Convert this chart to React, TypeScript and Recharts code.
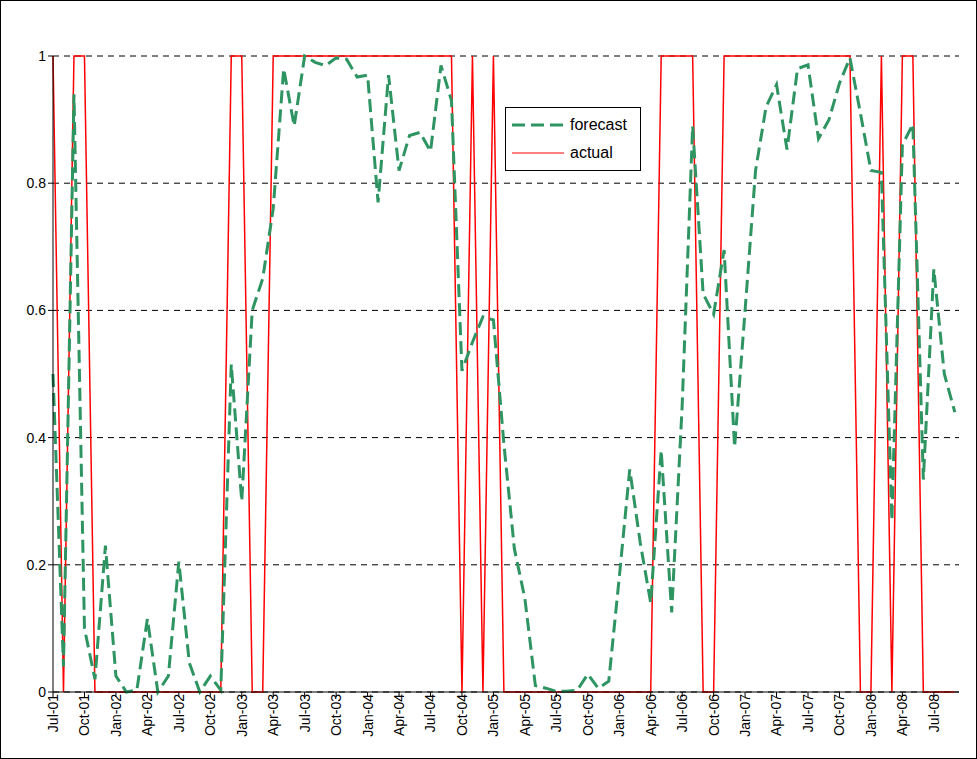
import React from 'react';
import { LineChart, Line, XAxis, YAxis, CartesianGrid } from 'recharts';

// monthly, Jul-01 .. Sep-08
const forecast = [
  0.5, 0.04, 0.94, 0.1, 0.02, 0.23, 0.025, 0, 0.003, 0.115,
  0, 0.025, 0.205, 0.046, 0, 0.025, 0.003, 0.515, 0.3, 0.6,
  0.65, 0.76, 0.98, 0.89, 1.0, 0.99, 0.985, 0.997, 0.995, 0.967,
  0.97, 0.77, 0.97, 0.82, 0.875, 0.88, 0.85, 0.985, 0.93, 0.505,
  0.55, 0.59, 0.585, 0.39, 0.225, 0.147, 0.01, 0.006, 0.001, 0.001,
  0.003, 0.028, 0.006, 0.017, 0.18, 0.35, 0.235, 0.14, 0.38, 0.125,
  0.45, 0.89, 0.626, 0.594, 0.695, 0.385, 0.6, 0.82, 0.92, 0.955,
  0.853, 0.98, 0.986, 0.87, 0.9, 0.957, 0.997, 0.91, 0.82, 0.817,
  0.27, 0.86, 0.893, 0.334, 0.665, 0.5, 0.44,
];

const actual = [
  1, 0, 1, 1, 0, 0, 0, 0, 0, 0,
  0, 0, 0, 0, 0, 0, 0, 1, 1, 0,
  0, 1, 1, 1, 1, 1, 1, 1, 1, 1,
  1, 1, 1, 1, 1, 1, 1, 1, 1, 0,
  1, 0, 1, 0, 0, 0, 0, 0, 0, 0,
  0, 0, 0, 0, 0, 0, 0, 0, 1, 1,
  1, 1, 0, 0, 1, 1, 1, 1, 1, 1,
  1, 1, 1, 1, 1, 1, 1, 0, 0, 1,
  0, 1, 1, 0, 0, 0, 0,
];

const months = ['Jan', 'Feb', 'Mar', 'Apr', 'May', 'Jun', 'Jul', 'Aug', 'Sep', 'Oct', 'Nov', 'Dec'];
const labels = forecast.map((_, i) => {
  const m = (6 + i) % 12;
  const y = 1 + Math.floor((6 + i) / 12);
  return `${months[m]}-${String(y).padStart(2, '0')}`;
});

const data = forecast.map((f, i) => ({ i, forecast: f, actual: actual[i] }));
const xTicks = labels.map((_, i) => i).filter(i => i % 3 === 0);

const font = 'Arial, "Liberation Sans", sans-serif';

const App: React.FC = () => (
  <div style={{ position: 'absolute', left: 0, top: 0, width: 975, height: 757, border: '1px solid #000', background: '#fff' }}>
    <LineChart width={975} height={757} data={data} margin={{ top: 55, right: 17, bottom: 0, left: 11 }}>
      <CartesianGrid vertical={false} stroke="#000" strokeDasharray="6 5" />
      <XAxis
        dataKey="i"
        type="number"
        domain={[0, 86.4]}
        ticks={xTicks}
        tickFormatter={(v: number) => labels[Math.round(v)] ?? ''}
        interval={0}
        height={66}
        stroke="#000"
        tickSize={5}
        angle={-90}
        textAnchor="end"
        dy={-5}
        dx={-5}
        tick={{ fill: '#000', fontSize: 14, fontFamily: font }}
      />
      <YAxis
        domain={[0, 1]}
        ticks={[0, 0.2, 0.4, 0.6, 0.8, 1]}
        width={41}
        stroke="#000"
        tickSize={5}
        tick={{ fill: '#000', fontSize: 14, fontFamily: font }}
      />
      <Line dataKey="actual" stroke="#ff0000" strokeWidth={1.5} dot={false} isAnimationActive={false} />
      <Line dataKey="forecast" stroke="#2e9562" strokeWidth={3} strokeDasharray="13 6" dot={false} isAnimationActive={false} />
    </LineChart>
    <div style={{ position: 'absolute', left: 504, top: 106, width: 134, height: 62, border: '1px solid #000', background: '#fff', fontFamily: font, fontSize: 16 }}>
      <div style={{ display: 'flex', alignItems: 'center', height: 30, marginTop: 2 }}>
        <svg width={56} height={6} style={{ marginLeft: 6 }}><line x1={0} y1={3} x2={52} y2={3} stroke="#2e9562" strokeWidth={3} strokeDasharray="13 6" /></svg>
        <span style={{ marginLeft: 2 }}>forecast</span>
      </div>
      <div style={{ display: 'flex', alignItems: 'center', height: 26 }}>
        <svg width={56} height={6} style={{ marginLeft: 6 }}><line x1={0} y1={3} x2={52} y2={3} stroke="#ff0000" strokeWidth={1} /></svg>
        <span style={{ marginLeft: 2 }}>actual</span>
      </div>
    </div>
  </div>
);

export default App;
